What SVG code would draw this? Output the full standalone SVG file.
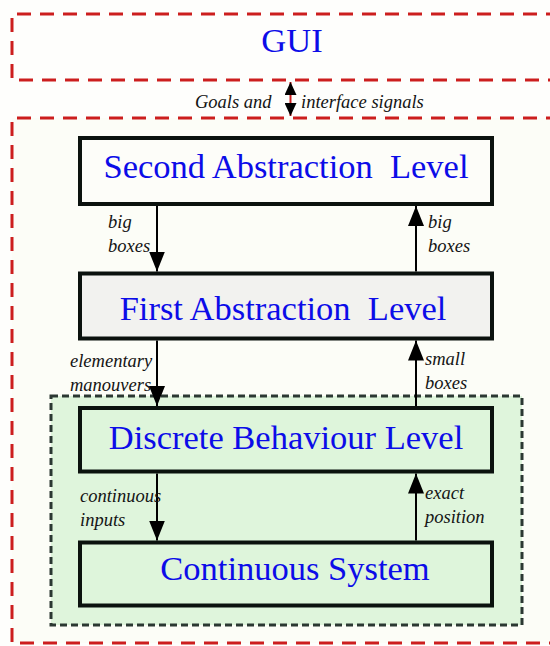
<svg xmlns="http://www.w3.org/2000/svg" width="550" height="646" viewBox="0 0 550 646">
  <style>
    .frame { fill: none; stroke: #cc1e1e; stroke-width: 3; stroke-dasharray: 14 9; }
    .zone { fill: #dff5dc; stroke: #2b3832; stroke-width: 3; stroke-dasharray: 7 4; }
    .box { stroke: #0b120e; stroke-width: 4; }
    text { font-family: "Liberation Serif", "Times New Roman", serif; }
    .title { font-size: 34.5px; fill: #0c0ce8; text-anchor: middle; white-space: pre; }
    .lbl { font-style: italic; font-size: 18.5px; fill: #141414; }
    .wire { stroke: #000; stroke-width: 2; fill: none; }
  </style>
  <defs>
    <marker id="tip" viewBox="0 0 20 16" refX="20" refY="8" markerWidth="20" markerHeight="16" markerUnits="userSpaceOnUse" orient="auto-start-reverse">
      <path d="M0 0 L20 8 L0 16 Z" fill="#000"/>
    </marker>
    <marker id="tipS" viewBox="0 0 13 12" refX="13" refY="6" markerWidth="13" markerHeight="12" markerUnits="userSpaceOnUse" orient="auto-start-reverse">
      <path d="M0 0 L13 6 L0 12 Z" fill="#000"/>
    </marker>
  </defs>

  <rect width="550" height="646" fill="#fefefc"/>

  <!-- GUI frame -->
  <g id="gui">
    <path class="frame" d="M560 14 H12 V80 H560"/>
    <text class="title" x="292" y="52">GUI</text>
  </g>

  <!-- controller frame -->
  <g id="controller">
    <path d="M560 118 H12 V643 H560 Z" fill="#fcfdf7"/>
    <path class="frame" d="M560 118 H12 V643 H560"/>
  </g>

  <!-- green low-level zone -->
  <g id="lowlevel">
    <rect class="zone" x="51" y="396" width="471" height="229"/>
  </g>

  <g id="second">
    <rect class="box" x="80" y="138" width="412" height="66" fill="#fdfdf9"/>
    <text class="title" x="286" y="178">Second Abstraction  Level</text>
  </g>

  <g id="first">
    <rect class="box" x="80" y="273.5" width="412" height="65" fill="#f2f2ef"/>
    <text class="title" x="283" y="320">First Abstraction  Level</text>
  </g>

  <g id="discrete">
    <rect class="box" x="80" y="408" width="412" height="63.5" fill="#def5db"/>
    <text class="title" x="286" y="449">Discrete Behaviour Level</text>
  </g>

  <g id="continuous">
    <rect class="box" x="80" y="542.5" width="412" height="63" fill="#def5db"/>
    <text class="title" x="295" y="580">Continuous System</text>
  </g>

  <!-- connectors -->
  <g id="connectors">
    <line x1="290.5" y1="82" x2="290.5" y2="116" stroke="#cc1e1e" stroke-width="2" marker-start="url(#tipS)" marker-end="url(#tipS)"/>

    <line class="wire" x1="157" y1="206" x2="157" y2="271.5" marker-end="url(#tip)"/>
    <line class="wire" x1="416" y1="271.5" x2="416" y2="206" marker-end="url(#tip)"/>

    <line class="wire" x1="157" y1="340.5" x2="157" y2="406" marker-end="url(#tip)"/>
    <line class="wire" x1="416" y1="406" x2="416" y2="340.5" marker-end="url(#tip)"/>

    <line class="wire" x1="157" y1="473.5" x2="157" y2="540.5" marker-end="url(#tip)"/>
    <line class="wire" x1="416" y1="540.5" x2="416" y2="473.5" marker-end="url(#tip)"/>
  </g>

  <!-- connector labels -->
  <g id="labels">
    <text class="lbl" x="195" y="108">Goals and</text>
    <text class="lbl" x="301" y="108">interface signals</text>

    <text class="lbl" x="108" y="228">big</text>
    <text class="lbl" x="108" y="252">boxes</text>
    <text class="lbl" x="428" y="228">big</text>
    <text class="lbl" x="428" y="252">boxes</text>

    <text class="lbl" x="70" y="367">elementary</text>
    <text class="lbl" x="70" y="391">manouvers</text>
    <text class="lbl" x="425" y="365">small</text>
    <text class="lbl" x="425" y="389">boxes</text>

    <text class="lbl" x="80" y="502">continuous</text>
    <text class="lbl" x="80" y="526">inputs</text>
    <text class="lbl" x="425" y="499">exact</text>
    <text class="lbl" x="425" y="523">position</text>
  </g>
</svg>
